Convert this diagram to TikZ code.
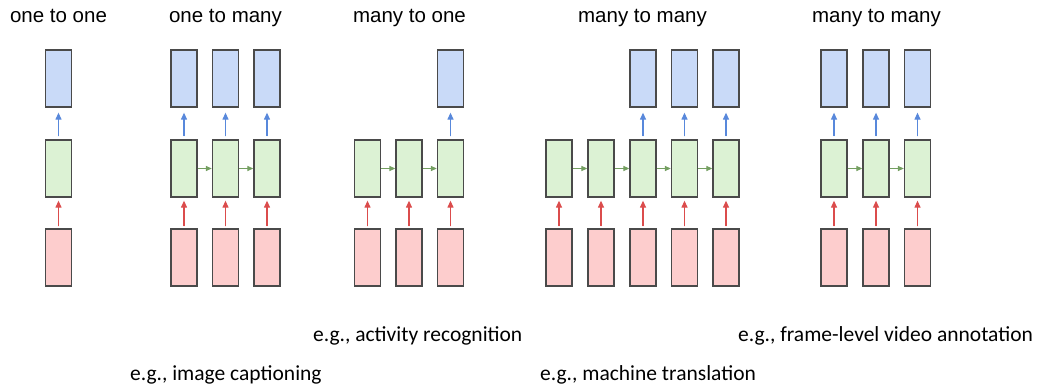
\documentclass[tikz,border=0pt]{standalone}
\usepackage{fontspec}
\setmainfont{Liberation Sans}
\newfontfamily\notefont{Carlito}
\usetikzlibrary{arrows.meta}

\definecolor{outfill}{HTML}{C9DAF8}
\definecolor{hidfill}{HTML}{DCF2D4}
\definecolor{infill}{HTML}{FDCDCD}
\definecolor{boxline}{HTML}{4A4A4A}
\definecolor{outarrow}{HTML}{1155CC}
\definecolor{inarrow}{HTML}{CC0000}
\definecolor{recarrow}{HTML}{38761D}

\tikzset{
  cell/.style={draw=boxline, line width=1.3pt, minimum width=26pt, minimum height=57pt, inner sep=0pt},
  outcell/.style={cell, fill=outfill},
  hidcell/.style={cell, fill=hidfill},
  incell/.style={cell, fill=infill},
  uparrow/.style={line width=1.2pt, -{Triangle[length=7pt,width=6pt]}},
  outlink/.style={uparrow, draw=outarrow!70, fill=outarrow, shorten <=3pt, shorten >=5pt},
  inlink/.style={uparrow, draw=inarrow!70, fill=inarrow, shorten <=2pt, shorten >=3pt},
  reclink/.style={line width=1.2pt, draw=recarrow!70, fill=recarrow, -{Triangle[length=6pt,width=5pt]}},
  title/.style={anchor=base, font=\fontsize{20.5}{24}\selectfont},
  note/.style={anchor=base west, inner sep=0pt, font=\notefont\fontsize{21.5}{26}\selectfont}
}

\begin{document}
\begin{tikzpicture}[x=1pt, y=-1pt]
\useasboundingbox (0,0) rectangle (1043,390);

% rows: output, hidden, input
\def\yo{78.5}
\def\yh{168.5}
\def\yi{257.5}

% one to one
\node[title] (t1) at (58.5,23) {one to one};
\node[outcell] (a-o1) at (58.5,\yo) {};
\node[hidcell] (a-h1) at (58.5,\yh) {};
\node[incell]  (a-i1) at (58.5,\yi) {};
\draw[inlink]  (a-i1) -- (a-h1);
\draw[outlink] (a-h1) -- (a-o1);

% one to many
\node[title] (t2) at (225.5,23) {one to many};
\foreach \k/\x in {1/184,2/225.5,3/267}{
  \node[outcell] (b-o\k) at (\x,\yo) {};
  \node[hidcell] (b-h\k) at (\x,\yh) {};
  \node[incell]  (b-i\k) at (\x,\yi) {};
  \draw[inlink]  (b-i\k) -- (b-h\k);
  \draw[outlink] (b-h\k) -- (b-o\k);
}
\draw[reclink] (b-h1) -- (b-h2);
\draw[reclink] (b-h2) -- (b-h3);

% many to one
\node[title] (t3) at (409.5,23) {many to one};
\foreach \k/\x in {1/367.5,2/409,3/450.5}{
  \node[hidcell] (c-h\k) at (\x,\yh) {};
  \node[incell]  (c-i\k) at (\x,\yi) {};
  \draw[inlink]  (c-i\k) -- (c-h\k);
}
\node[outcell] (c-o3) at (450.5,\yo) {};
\draw[outlink] (c-h3) -- (c-o3);
\draw[reclink] (c-h1) -- (c-h2);
\draw[reclink] (c-h2) -- (c-h3);

% many to many (delayed)
\node[title] (t4) at (642.5,23) {many to many};
\foreach \k/\x in {1/559,2/601,3/643,4/684.5,5/726}{
  \node[hidcell] (d-h\k) at (\x,\yh) {};
  \node[incell]  (d-i\k) at (\x,\yi) {};
  \draw[inlink]  (d-i\k) -- (d-h\k);
}
\foreach \k/\x in {3/643,4/684.5,5/726}{
  \node[outcell] (d-o\k) at (\x,\yo) {};
  \draw[outlink] (d-h\k) -- (d-o\k);
}
\foreach \a/\b in {1/2,2/3,3/4,4/5}{
  \draw[reclink] (d-h\a) -- (d-h\b);
}

% many to many (synced)
\node[title] (t5) at (876.5,23) {many to many};
\foreach \k/\x in {1/834,2/876,3/917.5}{
  \node[outcell] (e-o\k) at (\x,\yo) {};
  \node[hidcell] (e-h\k) at (\x,\yh) {};
  \node[incell]  (e-i\k) at (\x,\yi) {};
  \draw[inlink]  (e-i\k) -- (e-h\k);
  \draw[outlink] (e-h\k) -- (e-o\k);
}
\draw[reclink] (e-h1) -- (e-h2);
\draw[reclink] (e-h2) -- (e-h3);

% examples
\node[note] (n2) at (130,380) {e.g., image captioning};
\node[note] (n3) at (313,341) {e.g., activity recognition};
\node[note] (n4) at (540,380) {e.g., machine translation};
\node[note] (n5) at (738,341) {e.g., frame-level video annotation};
\end{tikzpicture}
\end{document}
